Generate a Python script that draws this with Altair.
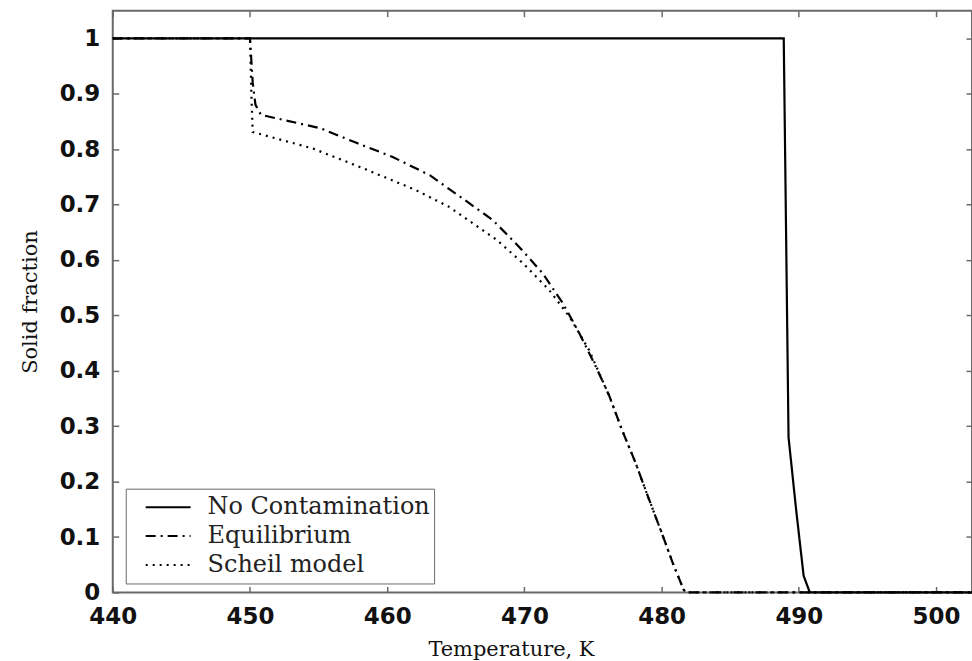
import altair as alt
import pandas as pd

# ---- data ----
nc_T = [440.0, 488.9, 489.25, 489.8, 490.35, 490.8, 502.62]
nc_f = [1.0, 1.0, 0.28, 0.15, 0.03, 0.0, 0.0]

eq_T = [440.0, 450.0, 450.2, 450.4, 450.8, 455.1, 457.8, 460.4, 463.1, 465.5,
        467.7, 469.6, 471.3, 472.8, 474.0, 475.2, 476.2, 477.1, 478.1, 478.9,
        480.0, 480.8, 481.6, 481.8, 502.62]
eq_f = [1.0, 1.0, 0.92, 0.88, 0.862, 0.838, 0.811, 0.786, 0.753, 0.711,
        0.672, 0.624, 0.577, 0.522, 0.468, 0.408, 0.354, 0.294, 0.234, 0.180,
        0.108, 0.054, 0.005, 0.0, 0.0]

sc_T = [440.0, 450.0, 450.1, 450.2, 454.6, 458.2, 462.1, 464.5, 468.0, 469.9,
        471.8, 473.3, 474.7, 476.2, 477.1, 478.1, 478.9, 480.0, 480.8, 481.6,
        481.8, 502.62]
sc_f = [1.0, 1.0, 0.9, 0.831, 0.801, 0.766, 0.726, 0.696, 0.636, 0.594,
        0.546, 0.497, 0.438, 0.354, 0.294, 0.234, 0.180, 0.108, 0.054, 0.005,
        0.0, 0.0]

series = ["No Contamination", "Equilibrium", "Scheil model"]
x_ticks = [440, 450, 460, 470, 480, 490, 500]
y_ticks = [0, 0.1, 0.2, 0.3, 0.4, 0.5, 0.6, 0.7, 0.8, 0.9, 1]

rows = []
for name, T, F in zip(series, [nc_T, eq_T, sc_T], [nc_f, eq_f, sc_f]):
    for i, (t, f) in enumerate(zip(T, F)):
        rows.append({"series": name, "T": t, "f": f, "i": i})
df = pd.DataFrame(rows)

FRAME = "#6a6a6a"
xscale = alt.Scale(domain=[440, 502.62], nice=False, zero=False)
yscale = alt.Scale(domain=[0, 1.05], nice=False, zero=False)

lines = alt.Chart(df).mark_line(color="black", strokeWidth=2.2).encode(
    x=alt.X("T:Q", scale=xscale,
            axis=alt.Axis(orient="bottom", values=x_ticks, format="d",
                          offset=-6, tickSize=6, domain=False, grid=False,
                          tickColor=FRAME, tickWidth=1.5,
                          labelFont="DejaVu Sans", labelFontSize=23,
                          labelFontWeight="bold",
                          labelColor="#111", labelPadding=13,
                          labelFlush=False,
                          title="Temperature, K", titleFont="DejaVu Serif",
                          titleFontSize=21, titleFontWeight="normal",
                          titleColor="#111", titleX=399, titleY=69,
                          titleBaseline="alphabetic", titleAlign="center")),
    y=alt.Y("f:Q", scale=yscale,
            axis=alt.Axis(orient="left", values=y_ticks, labelExpr="format(datum.value, '~g')",
                          offset=-6, tickSize=6, domain=False, grid=False,
                          tickColor=FRAME, tickWidth=1.5,
                          labelFont="DejaVu Sans", labelFontSize=23,
                          labelFontWeight="bold",
                          labelColor="#111", labelPadding=13,
                          labelFlush=False,
                          title="Solid fraction", titleFont="DejaVu Serif",
                          titleFontSize=21, titleFontWeight="normal",
                          titleColor="#111", titlePadding=19)),
    strokeDash=alt.StrokeDash(
        "series:N",
        scale=alt.Scale(domain=series, range=[[1, 0], [10, 5, 2, 5], [2, 5]]),
        legend=alt.Legend(orient="none", legendX=13, legendY=479, title=None,
                          padding=4, strokeColor=FRAME, fillColor="white",
                          labelFont="DejaVu Serif", labelFontSize=24,
                          labelColor="#222", symbolType="stroke",
                          symbolSize=2025, symbolStrokeWidth=2,
                          symbolStrokeColor="black", labelOffset=16,
                          symbolOffset=15, rowPadding=0, clipHeight=29,
                          labelLimit=500,
                          labelExpr="datum.label + '\u00a0\u00a0'")),
    order="i:Q",
)

mirror = alt.Chart(df).mark_point(opacity=0).encode(
    x=alt.X("T:Q", scale=xscale,
            axis=alt.Axis(orient="top", values=x_ticks, offset=-6, tickSize=6,
                          domain=False, grid=False, labels=False, title=None,
                          tickColor=FRAME, tickWidth=1.5)),
    y=alt.Y("f:Q", scale=yscale,
            axis=alt.Axis(orient="right", values=y_ticks, offset=-6, tickSize=6,
                          domain=False, grid=False, labels=False, title=None,
                          tickColor=FRAME, tickWidth=1.5)),
)

chart = alt.layer(lines, mirror).resolve_axis(
    x="independent", y="independent"
).properties(
    width=861, height=583,
    autosize=alt.AutoSizeParams(type="none"),
    padding={"left": 113, "top": 10, "right": 0, "bottom": 68},
    background="white",
).configure_view(stroke=FRAME, strokeWidth=2)

chart.save("out.html", embed_options={"renderer": "svg", "actions": False})
